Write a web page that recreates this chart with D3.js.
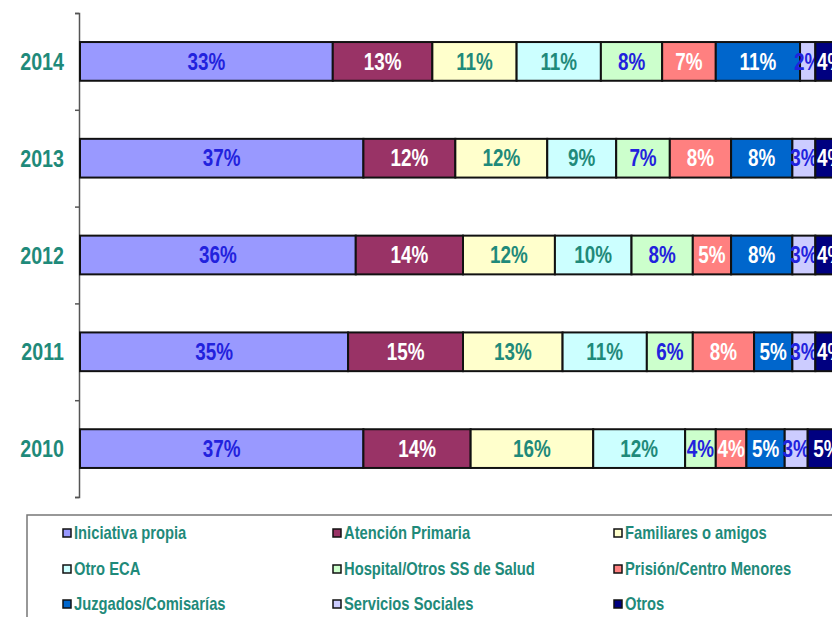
<!DOCTYPE html>
<html>
<head>
<meta charset="utf-8">
<script src="https://cdn.jsdelivr.net/npm/d3@7"></script>
<style>
  body { margin: 0; background: #fff; }
  svg { display: block; }
  .lbl { font-family: 'Liberation Sans', Arial, sans-serif; font-weight: bold; }
</style>
</head>
<body>
<svg id="chart" width="832" height="617"></svg>
<script>
// years, top to bottom
const years = ['2014', '2013', '2012', '2011', '2010']

const sources = [
  'Iniciativa propia', 'Atención Primaria', 'Familiares o amigos',
  'Otro ECA', 'Hospital/Otros SS de Salud', 'Prisión/Centro Menores',
  'Juzgados/Comisarías', 'Servicios Sociales', 'Otros'
]

// percent per source, one array per year
const v2014 = [33, 13, 11, 11, 8, 7, 11, 2, 4]
const v2013 = [37, 12, 12, 9, 7, 8, 8, 3, 4]
const v2012 = [36, 14, 12, 10, 8, 5, 8, 3, 4]
const v2011 = [35, 15, 13, 11, 6, 8, 5, 3, 4]
const v2010 = [37, 14, 16, 12, 4, 4, 5, 3, 5]

const fills = ['#9999ff', '#993366', '#ffffcc', '#ccffff', '#ccffcc', '#ff8080', '#0066cc', '#ccccff', '#000080']
const textColors = ['#2222dd', '#ffffff', '#1f8a7a', '#1f8a7a', '#2222dd', '#ffffff', '#ffffff', '#2222dd', '#ffffff']
const teal = '#1f8a7a'
const narrow = 0.82 // squeeze Liberation Sans to look like Arial Narrow

const rows = [v2014, v2013, v2012, v2011, v2010]
const data = years.map(function (yr, i) {
  let acc = 0
  return {
    year: yr,
    segs: rows[i].map(function (v, j) {
      const s = { key: sources[j], idx: j, value: v, x0: acc, x1: acc + v }
      acc += v
      return s
    })
  }
})

const svg = d3.select('#chart')
const plotTop = 13, plotBottom = 497, plotLeft = 80

const x = d3.scaleLinear().domain([0, 100]).range([plotLeft, 846])
const y = d3.scaleBand().domain(years).range([plotTop, plotBottom])
  .paddingInner(0.6).paddingOuter(0.3)
const yTicks = d3.scaleLinear().domain([0, years.length]).range([plotTop, plotBottom])

// category axis with boundary ticks
const axis = svg.append('g')
  .attr('transform', `translate(${plotLeft - 1},0)`)
  .call(d3.axisLeft(yTicks).tickValues(d3.range(years.length + 1)).tickFormat('').tickSize(4).tickSizeOuter(4))
axis.selectAll('path, line').attr('stroke', '#555').attr('stroke-width', 1.5)

// year labels
svg.append('g').selectAll('text')
  .data(years)
  .enter().append('text')
  .attr('class', 'lbl')
  .attr('transform', function (d) { return `translate(64,${y(d) + y.bandwidth() / 2}) scale(${narrow},1)` })
  .attr('dy', '0.36em')
  .attr('text-anchor', 'end')
  .attr('fill', teal)
  .style('font-size', '24px')
  .text(function (d) { return d })

// stacked bars, each segment followed by its label
const bars = svg.append('g').selectAll('g.bar')
  .data(data)
  .enter().append('g')
  .attr('class', 'bar')
  .attr('transform', function (d) { return `translate(0,${y(d.year)})` })

const seg = bars.selectAll('g.seg')
  .data(function (d) { return d.segs })
  .enter().append('g')
  .attr('class', 'seg')

seg.append('rect')
  .attr('x', function (d) { return x(d.x0) })
  .attr('y', 0)
  .attr('width', function (d) { return x(d.x1) - x(d.x0) })
  .attr('height', y.bandwidth())
  .attr('fill', function (d) { return fills[d.idx] })
  .attr('stroke', '#111')
  .attr('stroke-width', 2)

seg.append('text')
  .attr('class', 'lbl')
  .attr('transform', function (d) { return `translate(${(x(d.x0) + x(d.x1)) / 2},${y.bandwidth() / 2}) scale(${narrow},1)` })
  .attr('dy', '0.36em')
  .attr('text-anchor', 'middle')
  .attr('fill', function (d) { return textColors[d.idx] })
  .style('font-size', '23px')
  .text(function (d) { return d.value + '%' })

// legend box
const legend = svg.append('g')
legend.append('rect')
  .attr('x', 27).attr('y', 515)
  .attr('width', 830).attr('height', 130)
  .attr('fill', '#fff')
  .attr('stroke', '#777')
  .attr('stroke-width', 1.5)

const colX = [63, 333, 614]
const rowY = [533, 569, 604]
const item = legend.selectAll('g.item')
  .data(sources)
  .enter().append('g')
  .attr('class', 'item')
  .attr('transform', function (d, i) { return `translate(${colX[i % 3]},${rowY[Math.floor(i / 3)]})` })

item.append('rect')
  .attr('x', 0).attr('y', -4)
  .attr('width', 8).attr('height', 8)
  .attr('fill', function (d, i) { return fills[i] })
  .attr('stroke', '#111')
  .attr('stroke-width', 1.5)

item.append('text')
  .attr('class', 'lbl')
  .attr('transform', `translate(11,0) scale(${narrow},1)`)
  .attr('dy', '0.36em')
  .attr('fill', teal)
  .style('font-size', '18px')
  .text(function (d) { return d })
</script>
</body>
</html>
